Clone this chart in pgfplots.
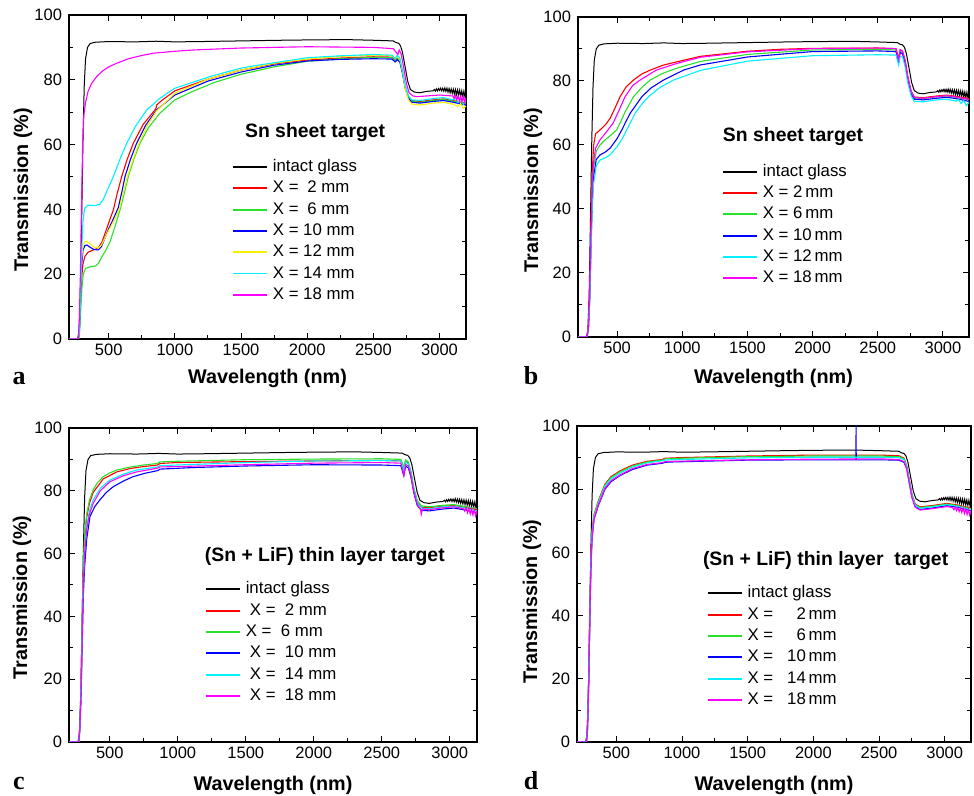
\documentclass[border=0pt]{standalone}
\usepackage{pgfplots}
\usepackage{pgfplotstable}
\pgfplotsset{compat=1.18}
\usepackage{fontspec}
\setmainfont{Liberation Sans}
\newfontfamily\letterfont{Liberation Serif}
\definecolor{cR}{RGB}{255,0,0}
\definecolor{cG}{RGB}{40,225,40}
\definecolor{cB}{RGB}{0,0,255}
\definecolor{cY}{RGB}{250,240,0}
\definecolor{cC}{RGB}{0,240,255}
\definecolor{cM}{RGB}{255,0,255}

\pgfplotstableread[row sep=\\]{
x y\\
200 0\\ 265 0\\ 275 2\\ 285 12\\ 295 35\\ 305 60\\ 315 78\\ 325 86.5\\ 340 90\\ 360 91.2\\ 400 91.6\\
500 91.8\\ 700 91.7\\ 860 91.9\\ 1000 91.7\\ 1200 91.8\\ 1500 92.0\\ 1800 92.2\\ 2000 92.3\\ 2300 92.4\\
2500 92.2\\ 2650 92.0\\ 2670 91.5\\ 2690 91.3\\ 2705 90.5\\ 2720 88.5\\ 2740 84\\ 2760 79.5\\ 2780 77\\
2810 76.2\\ 2850 76.0\\ 2900 76.4\\ 2950 76.6\\ 2960 77.0\\ 2968 76.5\\ 2976 77.2\\ 2984 76.6\\ 2992 77.3\\
3000 76.7\\ 3008 77.4\\ 3016 76.6\\ 3024 77.4\\ 3032 76.5\\ 3040 77.5\\ 3048 76.4\\ 3056 77.4\\ 3064 76.2\\
3072 77.3\\ 3080 76.0\\ 3088 77.2\\ 3096 75.8\\ 3104 77.1\\ 3112 75.6\\ 3120 77.0\\ 3128 75.4\\ 3136 76.9\\
3144 75.2\\ 3152 76.8\\ 3160 75.0\\ 3168 76.6\\ 3176 74.8\\ 3184 76.5\\ 3192 74.7\\ 3200 76.2\\
}\blackglass

\tikzset{titlefont/.style={font=\fontsize{9.7}{11}\selectfont\bfseries}}
\pgfplotsset{
  panel/.style={
    scale only axis, anchor=south west,
    xmin=200, xmax=3200, ymin=0, ymax=100,
    xtick={500,1000,...,3000}, ytick={0,20,...,100},
    minor xtick={750,1250,1750,2250,2750}, minor ytick={10,30,50,70,90},
    tick align=inside, major tick length=3pt, minor tick length=1.8pt,
    every tick/.style={black, line width=0.5pt},
    axis line style={line width=0.6pt},
    tick label style={font=\fontsize{8.25}{9}\selectfont},
    xticklabel style={yshift=0.8pt},
    /pgf/number format/assume math mode=true,
    /pgf/number format/1000 sep={},
    label style={font=\fontsize{9.9}{11}\selectfont\bfseries},
    xlabel={Wavelength (nm)}, ylabel={Transmission (\%)},
    xlabel style={anchor=center},
    ylabel style={anchor=center},
    every axis plot/.append style={line width=0.55pt},
    legend style={draw=none, fill=none, inner sep=0pt, outer sep=0pt,
      font=\fontsize{8.4}{9}\selectfont, anchor=north west, row sep=2.15pt, column sep=2.5pt,
      nodes={inner sep=0pt, text height=6.5pt, text depth=2pt}},
    legend cell align=left,
    legend image code/.code={\draw[#1, line width=0.95pt] (0pt,0pt) -- (17pt,0pt);},
  },
}

\begin{document}
\begin{tikzpicture}
\useasboundingbox (0,0) rectangle (487pt,398pt);

% ---------------- panel a ----------------
\begin{axis}[panel, at={(34.5pt,228.5pt)}, width=198.5pt, height=162pt,
  xlabel style={at={(axis description cs:0.5,-0.1204)}},
  ylabel style={at={(axis description cs:-0.1159,0.46)}},
  legend style={at={(axis description cs:0.4106,0.557)}}]
\addplot[black, line width=0.5pt] table {\blackglass};
\addlegendentry{intact glass}
\addplot[cR] coordinates {(200,0)(272,0)(280,4)(288,12)(296,19)(305,23)(320,25.5)(345,26.8)(385,27.5)(420,28)(450,30)(480,33.5)(510,37)(535,39.8)(565,45)(598,50.1)(640,55.5)(686,60.4)(760,66.2)(850,70.7)(858,71.2)(862,72.2)(900,73.6)(1000,76.6)(1250,80.2)(1500,83)(1750,84.9)(2000,86.1)(2250,86.7)(2500,87.1)(2640,87)(2665,86)(2680,86.8)(2700,86)(2720,82.5)(2740,78)(2765,74.8)(2790,73.6)(2850,73.3)(2950,73.8)(3030,74.1)(3100,73.6)(3200,72.8)};
\addlegendentry{X = \hspace{0.25em}2 mm}
\addplot[cG] coordinates {(200,0)(274,0)(282,3)(290,10)(298,16)(308,20)(325,21.8)(360,22.3)(400,22.5)(425,23.5)(450,25.5)(480,27.5)(510,30)(550,35)(585,39.8)(615,44.5)(648,50.1)(690,55.5)(736,60.4)(800,65.2)(887,69.7)(1000,73.8)(1139,76.5)(1300,79.2)(1500,81.7)(1750,84)(2000,85.7)(2250,86.5)(2500,86.9)(2640,86.8)(2665,85.8)(2680,86.5)(2700,85.8)(2720,82.3)(2740,77.8)(2765,74.6)(2790,73.4)(2850,73)(2950,73.6)(3030,73.9)(3100,73.4)(3200,72.5)};
\addlegendentry{X = \hspace{0.25em}6 mm}
\addplot[cB] coordinates {(200,0)(272,0)(280,5)(288,15)(296,23)(306,27.5)(320,28.8)(335,29)(360,28.3)(390,27.6)(420,27.5)(445,28.5)(470,31)(500,34)(540,37.5)(572,40.5)(600,45.5)(623,50.1)(665,55.5)(711,60.4)(780,66)(862,70.7)(1000,75.3)(1250,79.6)(1500,82.4)(1750,84.5)(2000,85.8)(2250,86.3)(2500,86.5)(2640,86.4)(2665,85.5)(2680,86.2)(2700,85.5)(2720,82)(2740,77.5)(2765,74.3)(2790,73.1)(2850,72.8)(2950,73.3)(3030,73.6)(3100,73.1)(3200,72.2)};
\addlegendentry{X = 10 mm}
\addplot[cY] coordinates {(200,0)(272,0)(280,6)(288,17)(296,25)(306,29)(320,30)(335,30.1)(360,29.3)(390,28.4)(421,28)(445,29)(470,31)(500,33.5)(540,36.5)(580,40)(610,45)(640,50)(680,55)(725,60)(790,65.8)(862,70.4)(1000,75.8)(1250,80.2)(1500,83)(1750,85.1)(2000,86.4)(2250,87.2)(2500,87.6)(2640,87.5)(2665,86.5)(2680,87.2)(2700,86.3)(2720,82.5)(2740,77.5)(2765,73.8)(2790,72.5)(2850,72.2)(2950,72.8)(3030,73)(3100,72.5)(3140,71.8)(3160,72.6)(3180,71.2)(3200,71.9)};
\addlegendentry{X = 12 mm}
\addplot[cC] coordinates {(200,0)(272,0)(280,4)(288,14)(296,27)(305,36)(318,40.3)(340,41.3)(400,41.2)(434,41.6)(460,43.2)(490,46)(535,50.1)(590,56)(636,60.4)(700,65.5)(787,70.7)(887,74.3)(1000,77.4)(1265,81)(1500,83.6)(1643,84.6)(2000,86.8)(2250,87.4)(2500,87.8)(2640,87.6)(2665,86.5)(2680,87.5)(2700,86.8)(2720,83)(2740,78.5)(2765,75)(2790,73.8)(2850,73.6)(2950,74.2)(3030,74.5)(3100,73.8)(3120,74.3)(3140,73)(3160,74)(3180,72.4)(3200,73.4)};
\addlegendentry{X = 14 mm}
\addplot[cM] coordinates {(200,0)(270,0)(278,6)(286,20)(295,42)(303,60)(312,69)(325,73)(345,76.5)(370,78.8)(409,81)(450,82.6)(500,84)(560,85.1)(650,86.5)(750,87.5)(836,88.2)(1000,88.8)(1140,89.2)(1500,89.8)(2000,90.2)(2500,90)(2650,89.6)(2672,88.5)(2685,87.8)(2695,89.2)(2710,88)(2730,83.5)(2750,78.8)(2770,76)(2800,75)(2830,74.8)(2900,75)(3000,75.3)(3100,75)(3110,74.2)(3120,75.2)(3130,73.8)(3140,75)(3150,73.5)(3160,74.9)(3170,73.2)(3180,74.8)(3190,73)(3200,74.5)};
\addlegendentry{X = 18 mm}
\node[titlefont] at (axis description cs:0.62,0.636) {Sn sheet target};
\end{axis}

% ---------------- panel b ----------------
\begin{axis}[panel, at={(289pt,229.5pt)}, width=195.5pt, height=160pt,
  xlabel style={at={(axis description cs:0.5,-0.128)}},
  ylabel style={at={(axis description cs:-0.115,0.459)}},
  legend style={at={(axis description cs:0.368,0.543)}}]
\addplot[black, line width=0.5pt] table {\blackglass};
\addlegendentry{intact glass}
\addplot[cR] coordinates {(200,0)(270,0)(280,3)(290,15)(300,36)(310,52)(320,60)(335,63.5)(369,64.7)(410,66.3)(446,68.3)(480,71.2)(523,75.1)(570,78.2)(626,80.3)(690,82.2)(754,83.4)(850,84.9)(959,86)(1138,87.7)(1500,89.3)(1750,89.9)(2000,90.2)(2500,90.3)(2640,90.1)(2660,87)(2672,89.8)(2690,89.3)(2710,86.5)(2730,81.5)(2755,77)(2780,75)(2850,74.8)(2950,75.3)(3030,75.6)(3100,75.2)(3200,74.5)};
\addlegendentry{X = 2\,mm}
\addplot[cG] coordinates {(200,0)(270,0)(280,3)(290,13)(300,31)(310,46)(320,53)(340,58)(369,60)(408,61.6)(450,63)(497,64.7)(530,67.5)(560,70.2)(626,75.1)(690,78)(754,80.3)(850,82.4)(959,84)(1138,86.1)(1500,88.3)(2000,89.7)(2500,89.9)(2640,89.7)(2660,86.5)(2672,89.4)(2690,89)(2710,86)(2730,81)(2755,76.5)(2780,74.7)(2850,74.5)(2950,75)(3030,75.3)(3100,74.9)(3200,74.1)};
\addlegendentry{X = 6\,mm}
\addplot[cB] coordinates {(200,0)(270,0)(280,3)(290,12)(300,29)(310,43)(320,50)(340,55.5)(369,56.9)(410,57.8)(446,59)(500,62)(536,64.7)(570,67.5)(600,69.9)(690,75.1)(760,77.8)(856,80.3)(1010,83.4)(1138,85)(1500,87.5)(2000,89.2)(2500,89.4)(2640,89.2)(2660,86)(2672,88.9)(2690,88.5)(2710,85.5)(2730,80.5)(2755,76)(2780,74.3)(2850,74.1)(2950,74.6)(3030,74.9)(3100,74.5)(3200,73.6)};
\addlegendentry{X = 10\,mm}
\addplot[cC] coordinates {(200,0)(270,0)(280,3)(290,11)(300,27)(310,41)(320,48)(340,53.5)(369,55.3)(410,56)(446,56.9)(500,59.5)(540,62)(574,64.7)(638,69.9)(690,72.8)(741,75.1)(830,78)(933,80.3)(1138,83.3)(1500,86.2)(2000,87.9)(2500,88.2)(2640,88.1)(2660,85)(2672,87.8)(2690,87.5)(2710,84.5)(2730,79.5)(2755,75.5)(2780,73.6)(2850,73.5)(2950,74.1)(3030,74.3)(3100,73.7)(3120,74.2)(3140,72.9)(3160,73.9)(3180,72.3)(3200,73.3)};
\addlegendentry{X = 12\,mm}
\addplot[cM] coordinates {(200,0)(270,0)(280,3)(290,14)(300,33)(310,48)(320,55)(335,59)(369,61.6)(420,64.2)(469,66.8)(520,71.3)(561,75.1)(620,78.6)(677,80.3)(800,83.4)(959,85.5)(1138,87.4)(1500,89.1)(2000,90.1)(2500,90.3)(2640,90.1)(2660,86.5)(2672,89.8)(2690,89.3)(2710,86.3)(2730,81.3)(2755,76.8)(2780,74.8)(2850,74.6)(2950,75.1)(3030,75.4)(3100,75)(3200,74.2)};
\addlegendentry{X = 18\,mm}
\node[titlefont] at (axis description cs:0.55,0.626) {Sn sheet target};
\end{axis}

% ---------------- panel c ----------------
\begin{axis}[panel, at={(34.5pt,27pt)}, width=204pt, height=157pt,
  xlabel style={at={(axis description cs:0.5,-0.137)}},
  ylabel style={at={(axis description cs:-0.115,0.46)}},
  legend style={at={(axis description cs:0.333,0.513)}}]
\addplot[black, line width=0.5pt] table {\blackglass};
\addlegendentry{intact glass}
\addplot[cR] coordinates {(200,0)(272,0)(280,5)(290,21)(298,40)(306,56)(315,64.5)(330,71.5)(350,76)(378,79.5)(452,83.8)(550,86)(650,87.1)(745,87.7)(850,88.2)(870,88.7)(990,89)(1500,89.3)(2000,89.5)(2500,89.7)(2640,89.5)(2662,87)(2675,89.3)(2695,88.8)(2715,85.6)(2735,80.6)(2760,76.6)(2790,74.8)(2850,74.6)(2950,75.1)(3030,75.3)(3100,74.8)(3200,74)};
\addlegendentry{\hspace{0.25em}X = \ 2 mm}
\addplot[cG] coordinates {(200,0)(272,0)(280,5)(290,22)(298,42)(306,58)(315,66)(330,72.5)(350,77)(378,80.3)(410,82.6)(452,84.5)(500,85.7)(550,86.6)(640,87.5)(745,88.2)(850,88.7)(870,89.2)(990,89.4)(1200,89.6)(1500,89.9)(2000,90.1)(2500,90.2)(2640,90)(2662,87.5)(2675,89.8)(2695,89.2)(2715,86)(2735,81)(2760,77)(2790,75.2)(2850,74.9)(2950,75.4)(3030,75.6)(3100,75.1)(3200,74.3)};
\addlegendentry{X = \ 6 mm}
\addplot[cB] coordinates {(200,0)(272,0)(280,4)(290,17)(298,33)(306,47)(315,56)(330,64.5)(354,71.8)(390,75)(427,77.1)(475,79.5)(525,81.3)(600,83.1)(671,84.5)(760,85.6)(850,86.4)(870,86.9)(1111,87.4)(1500,87.9)(2000,88.3)(2500,88.2)(2640,88)(2662,84.8)(2675,87.8)(2695,87.3)(2715,84.3)(2735,79.4)(2760,75.4)(2790,73.8)(2850,73.6)(2950,74.2)(3030,74.5)(3100,74)(3200,73)};
\addlegendentry{\hspace{0.25em}X = \ 10 mm}
\addplot[cC] coordinates {(200,0)(272,0)(280,4)(290,19)(298,37)(306,52)(315,61)(330,68.5)(350,73.5)(378,77.1)(430,80.8)(501,83.4)(600,85.3)(696,86.6)(850,87.6)(870,88)(990,88.2)(1500,89)(2000,89.5)(2500,89.6)(2640,89.5)(2662,86.5)(2675,89.1)(2695,88.6)(2715,85.4)(2735,80.4)(2760,76.3)(2790,74.5)(2850,74.3)(2950,74.9)(3030,75.1)(3100,74.6)(3200,73.6)};
\addlegendentry{\hspace{0.25em}X = \ 14 mm}
\addplot[cM] coordinates {(200,0)(272,0)(280,4)(290,18)(298,36)(306,51)(315,60)(330,67.5)(350,72.5)(378,76)(430,80)(501,82.9)(600,84.8)(696,86)(850,87.2)(870,87.6)(990,87.7)(1500,88.3)(2000,88.8)(2500,89)(2640,88.8)(2662,85)(2675,88.4)(2695,87.9)(2715,84.8)(2735,79.8)(2760,75.8)(2785,74)(2790,72.5)(2800,74.2)(2850,74)(2950,74.6)(3030,74.9)(3100,74.3)(3110,73.5)(3120,74.6)(3130,73)(3140,74.4)(3150,72.6)(3160,74.2)(3170,72.3)(3180,74)(3190,72)(3200,73.6)};
\addlegendentry{\hspace{0.25em}X = \ 18 mm}
\node[titlefont] at (axis description cs:0.627,0.59) {(Sn + LiF) thin layer target};
\end{axis}

% ---------------- panel d ----------------
\begin{axis}[panel, at={(288.5pt,27pt)}, width=197pt, height=158pt,
  xlabel style={at={(axis description cs:0.5,-0.136)}},
  ylabel style={at={(axis description cs:-0.114,0.444)}},
  legend style={at={(axis description cs:0.329,0.497)}}]
\addplot[black, line width=0.5pt] table {\blackglass};
\addlegendentry{intact glass}
\addplot[cR] coordinates {(200,0)(272,0)(280,5)(290,22)(298,42)(306,58)(315,67)(330,72)(362,76.3)(413,81.6)(460,84)(527,85.8)(620,87.6)(731,88.8)(850,89.4)(870,89.8)(1000,90)(1200,90.2)(1500,90.5)(2000,90.8)(2500,90.8)(2650,90.6)(2690,89.8)(2710,87.5)(2730,83)(2750,78.5)(2775,75.3)(2812,74.4)(2900,74.8)(3016,75.5)(3100,75)(3200,74)};
\addlegendentry{X = \ \ \phantom{1}2\,mm}
\addplot[cG] coordinates {(200,0)(272,0)(280,5)(290,22)(298,42)(306,58)(315,66.7)(330,71.7)(362,76)(413,81.3)(460,83.7)(527,85.5)(620,87.3)(731,88.6)(850,89.2)(870,89.6)(1000,89.8)(1500,90.3)(2000,90.5)(2500,90.5)(2650,90.3)(2690,89.6)(2710,87.3)(2730,82.8)(2750,78.3)(2775,75.1)(2812,74.2)(2900,74.6)(3016,75.3)(3100,74.8)(3200,73.8)};
\addlegendentry{X = \ \ \phantom{1}6\,mm}
\addplot[cB] coordinates {(200,0)(272,0)(280,4)(290,20)(298,40)(306,55)(315,64.5)(330,70.5)(362,74.8)(413,80)(460,82.4)(527,84.3)(620,86.2)(731,87.6)(850,88.2)(870,88.5)(908,88.6)(1500,89.2)(2000,89.3)(2324,89.3)(2325,101)(2326,89.3)(2500,89.3)(2650,89.2)(2690,88.5)(2710,86.5)(2730,82)(2750,77.5)(2775,74.5)(2812,73.6)(2900,74)(3016,74.8)(3100,74.3)(3200,73.2)};
\addlegendentry{X = \ \ 10\,mm}
\addplot[cC] coordinates {(200,0)(272,0)(280,5)(290,21)(298,41)(306,57)(315,66)(330,71.2)(362,75.6)(413,80.9)(460,83.3)(527,85.1)(620,87)(731,88.3)(850,89)(870,89.2)(908,89.3)(1500,89.9)(2000,90.1)(2500,90.1)(2650,90)(2690,89.3)(2710,87)(2730,82.5)(2750,78)(2775,74.9)(2812,74)(2900,74.4)(3016,75.1)(3100,74.6)(3200,73.5)};
\addlegendentry{X = \ \ 14\,mm}
\addplot[cM] coordinates {(200,0)(272,0)(280,4)(290,20)(298,40)(306,56)(315,65)(330,70.7)(362,75)(413,80.3)(460,82.7)(527,84.5)(620,86.5)(731,87.8)(850,88.4)(870,88.7)(908,88.8)(1500,89.3)(2000,89.5)(2500,89.6)(2650,89.4)(2690,88.7)(2710,86.6)(2730,82)(2750,77.4)(2775,74.3)(2812,73.4)(2900,73.8)(3016,74.5)(3060,74.2)(3070,73.5)(3080,74.3)(3090,73.2)(3100,74.2)(3110,72.9)(3120,74.1)(3130,72.6)(3140,73.9)(3150,72.3)(3160,73.8)(3170,72)(3180,73.6)(3190,71.8)(3200,73.3)};
\addlegendentry{X = \ \ 18\,mm}
\node[titlefont] at (axis description cs:0.631,0.573) {(Sn + LiF) thin layer\ \ target};
\end{axis}

% panel letters
\node[font=\letterfont\bfseries\fontsize{13}{14}\selectfont, anchor=base] at (9.5pt,205.5pt) {a};
\node[font=\letterfont\bfseries\fontsize{13}{14}\selectfont, anchor=base] at (265.5pt,205.5pt) {b};
\node[font=\letterfont\bfseries\fontsize{13}{14}\selectfont, anchor=base] at (9.5pt,3pt) {c};
\node[font=\letterfont\bfseries\fontsize{13}{14}\selectfont, anchor=base] at (265.5pt,3pt) {d};
\end{tikzpicture}
\end{document}
